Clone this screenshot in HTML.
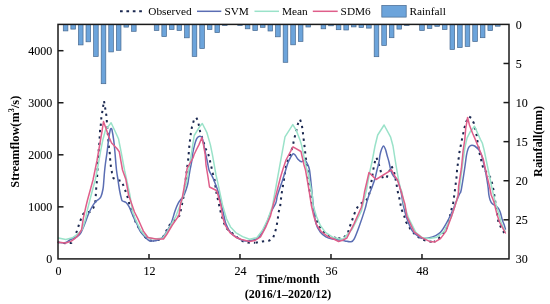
<!DOCTYPE html>
<html><head><meta charset="utf-8">
<style>
html,body{margin:0;padding:0;background:#fff;}
body{width:550px;height:304px;overflow:hidden;position:relative;}
svg{position:absolute;left:0;top:0;display:block;will-change:transform;}
text{font-family:"Liberation Serif",serif;fill:#000;}
</style></head>
<body>
<svg width="550" height="304" viewBox="0 0 550 304">
<rect x="0" y="0" width="550" height="304" fill="#fff"/>
<g><rect x="63.28" y="24.40" width="4.60" height="6.50" fill="#6ca4db" stroke="#46688f" stroke-width="0.7"/><rect x="70.87" y="24.40" width="4.60" height="4.70" fill="#6ca4db" stroke="#46688f" stroke-width="0.7"/><rect x="78.45" y="24.40" width="4.60" height="20.50" fill="#6ca4db" stroke="#46688f" stroke-width="0.7"/><rect x="86.03" y="24.40" width="4.60" height="17.40" fill="#6ca4db" stroke="#46688f" stroke-width="0.7"/><rect x="93.61" y="24.40" width="4.60" height="32.10" fill="#6ca4db" stroke="#46688f" stroke-width="0.7"/><rect x="101.20" y="24.40" width="4.60" height="59.30" fill="#6ca4db" stroke="#46688f" stroke-width="0.7"/><rect x="108.78" y="24.40" width="4.60" height="27.50" fill="#6ca4db" stroke="#46688f" stroke-width="0.7"/><rect x="116.36" y="24.40" width="4.60" height="25.90" fill="#6ca4db" stroke="#46688f" stroke-width="0.7"/><rect x="123.95" y="24.40" width="4.60" height="2.70" fill="#6ca4db" stroke="#46688f" stroke-width="0.7"/><rect x="131.53" y="24.40" width="4.60" height="6.90" fill="#6ca4db" stroke="#46688f" stroke-width="0.7"/><rect x="154.28" y="24.40" width="4.60" height="6.10" fill="#6ca4db" stroke="#46688f" stroke-width="0.7"/><rect x="161.86" y="24.40" width="4.60" height="12.20" fill="#6ca4db" stroke="#46688f" stroke-width="0.7"/><rect x="169.44" y="24.40" width="4.60" height="5.10" fill="#6ca4db" stroke="#46688f" stroke-width="0.7"/><rect x="177.03" y="24.40" width="4.60" height="6.10" fill="#6ca4db" stroke="#46688f" stroke-width="0.7"/><rect x="184.61" y="24.40" width="4.60" height="13.40" fill="#6ca4db" stroke="#46688f" stroke-width="0.7"/><rect x="192.19" y="24.40" width="4.60" height="32.00" fill="#6ca4db" stroke="#46688f" stroke-width="0.7"/><rect x="199.78" y="24.40" width="4.60" height="24.10" fill="#6ca4db" stroke="#46688f" stroke-width="0.7"/><rect x="207.36" y="24.40" width="4.60" height="5.10" fill="#6ca4db" stroke="#46688f" stroke-width="0.7"/><rect x="214.94" y="24.40" width="4.60" height="8.20" fill="#6ca4db" stroke="#46688f" stroke-width="0.7"/><rect x="222.53" y="24.40" width="4.60" height="1.10" fill="#6ca4db" stroke="#46688f" stroke-width="0.7"/><rect x="237.69" y="24.40" width="4.60" height="1.10" fill="#6ca4db" stroke="#46688f" stroke-width="0.7"/><rect x="245.28" y="24.40" width="4.60" height="4.40" fill="#6ca4db" stroke="#46688f" stroke-width="0.7"/><rect x="252.86" y="24.40" width="4.60" height="6.20" fill="#6ca4db" stroke="#46688f" stroke-width="0.7"/><rect x="260.44" y="24.40" width="4.60" height="2.90" fill="#6ca4db" stroke="#46688f" stroke-width="0.7"/><rect x="268.02" y="24.40" width="4.60" height="6.60" fill="#6ca4db" stroke="#46688f" stroke-width="0.7"/><rect x="275.61" y="24.40" width="4.60" height="12.40" fill="#6ca4db" stroke="#46688f" stroke-width="0.7"/><rect x="283.19" y="24.40" width="4.60" height="37.90" fill="#6ca4db" stroke="#46688f" stroke-width="0.7"/><rect x="290.77" y="24.40" width="4.60" height="20.40" fill="#6ca4db" stroke="#46688f" stroke-width="0.7"/><rect x="298.36" y="24.40" width="4.60" height="17.00" fill="#6ca4db" stroke="#46688f" stroke-width="0.7"/><rect x="305.94" y="24.40" width="4.60" height="2.60" fill="#6ca4db" stroke="#46688f" stroke-width="0.7"/><rect x="321.11" y="24.40" width="4.60" height="4.40" fill="#6ca4db" stroke="#46688f" stroke-width="0.7"/><rect x="328.69" y="24.40" width="4.60" height="1.40" fill="#6ca4db" stroke="#46688f" stroke-width="0.7"/><rect x="336.27" y="24.40" width="4.60" height="5.30" fill="#6ca4db" stroke="#46688f" stroke-width="0.7"/><rect x="343.85" y="24.40" width="4.60" height="5.60" fill="#6ca4db" stroke="#46688f" stroke-width="0.7"/><rect x="351.44" y="24.40" width="4.60" height="2.50" fill="#6ca4db" stroke="#46688f" stroke-width="0.7"/><rect x="359.02" y="24.40" width="4.60" height="3.00" fill="#6ca4db" stroke="#46688f" stroke-width="0.7"/><rect x="366.60" y="24.40" width="4.60" height="3.70" fill="#6ca4db" stroke="#46688f" stroke-width="0.7"/><rect x="374.19" y="24.40" width="4.60" height="32.30" fill="#6ca4db" stroke="#46688f" stroke-width="0.7"/><rect x="381.77" y="24.40" width="4.60" height="21.10" fill="#6ca4db" stroke="#46688f" stroke-width="0.7"/><rect x="389.35" y="24.40" width="4.60" height="13.30" fill="#6ca4db" stroke="#46688f" stroke-width="0.7"/><rect x="396.94" y="24.40" width="4.60" height="4.70" fill="#6ca4db" stroke="#46688f" stroke-width="0.7"/><rect x="404.52" y="24.40" width="4.60" height="1.10" fill="#6ca4db" stroke="#46688f" stroke-width="0.7"/><rect x="419.68" y="24.40" width="4.60" height="6.10" fill="#6ca4db" stroke="#46688f" stroke-width="0.7"/><rect x="427.27" y="24.40" width="4.60" height="4.10" fill="#6ca4db" stroke="#46688f" stroke-width="0.7"/><rect x="434.85" y="24.40" width="4.60" height="1.90" fill="#6ca4db" stroke="#46688f" stroke-width="0.7"/><rect x="442.43" y="24.40" width="4.60" height="5.10" fill="#6ca4db" stroke="#46688f" stroke-width="0.7"/><rect x="450.02" y="24.40" width="4.60" height="25.10" fill="#6ca4db" stroke="#46688f" stroke-width="0.7"/><rect x="457.60" y="24.40" width="4.60" height="23.20" fill="#6ca4db" stroke="#46688f" stroke-width="0.7"/><rect x="465.18" y="24.40" width="4.60" height="22.00" fill="#6ca4db" stroke="#46688f" stroke-width="0.7"/><rect x="472.76" y="24.40" width="4.60" height="17.10" fill="#6ca4db" stroke="#46688f" stroke-width="0.7"/><rect x="480.35" y="24.40" width="4.60" height="13.30" fill="#6ca4db" stroke="#46688f" stroke-width="0.7"/><rect x="487.93" y="24.40" width="4.60" height="6.20" fill="#6ca4db" stroke="#46688f" stroke-width="0.7"/><rect x="495.51" y="24.40" width="4.60" height="1.80" fill="#6ca4db" stroke="#46688f" stroke-width="0.7"/></g>
<g fill="none" stroke-linejoin="round" stroke-linecap="round">
<polyline points="58.0,242.3 65.6,243.2 71.3,243.0 74.5,237.5 76.9,231.0 78.9,224.9 81.0,219.0 83.4,213.6 86.0,212.5 89.9,211.8 93.5,207.7 95.3,202.0 95.8,195.0 96.2,188.5 96.8,182.0 97.3,174.0 98.0,158.0 99.3,144.0 100.0,131.0 100.8,124.8 101.3,118.3 104.0,100.8 106.4,115.7 106.9,121.9 107.3,127.7 108.9,146.8 109.8,153.6 110.2,159.8 110.9,166.6 112.0,172.7 113.4,178.2 116.5,180.0 121.5,181.0 124.0,187.0 126.2,193.0 128.2,199.0 129.5,205.0 132.0,211.5 134.0,217.5 136.0,223.0 140.0,230.0 145.0,237.0 149.0,240.5 153.0,241.0" stroke="#1b2850" stroke-width="2" stroke-dasharray="2.3 4.1" stroke-dashoffset="1.05" stroke-linecap="butt"/><polyline points="153.0,241.0 158.0,240.0 162.0,238.5 164.6,234.5 167.4,228.7 170.5,223.4 175.0,219.5 179.6,215.4 181.0,209.5 182.3,202.9 183.5,197.0 185.5,181.0 187.5,165.0 188.3,158.5 188.8,152.3 189.5,144.0 190.9,133.2 192.0,126.7 193.8,120.5 196.2,117.5 198.0,120.8 199.0,126.1 200.1,131.6 203.0,140.5 205.8,148.8 208.4,154.6 210.0,161.0 211.5,167.5 213.0,174.0 214.5,179.5 215.5,186.5 216.5,193.0 217.8,199.0 219.0,204.5 220.5,211.4 222.3,217.7 224.1,223.2 226.8,228.6 232.3,233.2 238.0,238.0 243.2,241.4 247.7,242.6 255.0,242.8" stroke="#1b2850" stroke-width="2" stroke-dasharray="2.3 4.1" stroke-dashoffset="1.77" stroke-linecap="butt"/><polyline points="255.0,242.8 262.3,241.4 269.5,240.5 273.2,237.7 275.0,232.3 276.5,226.8 277.7,219.5 278.6,212.3 280.1,206.8 281.5,194.5 282.5,188.5 283.5,182.5 285.5,169.5 286.5,163.5 289.0,158.0 291.0,152.0 293.0,145.1 294.1,139.1 295.8,133.1 297.1,126.6 299.0,120.6 300.0,119.5 301.7,123.9 302.6,130.4 303.4,136.9 304.1,142.9 305.0,150.0 305.5,156.0 306.5,162.0 307.7,168.0 308.6,182.7 309.5,190.0 311.4,200.0 312.3,205.0 315.0,215.5 318.2,224.6 321.7,229.7 325.7,234.3 331.0,237.0 337.7,238.4" stroke="#1b2850" stroke-width="2" stroke-dasharray="2.3 4.1" stroke-dashoffset="5.80" stroke-linecap="butt"/><polyline points="337.7,238.4 343.2,238.2 347.7,233.6 349.5,227.3 351.9,220.9 354.1,214.5 356.3,209.1 359.2,204.5 362.3,202.7 365.5,201.2 368.4,197.5 370.0,190.5 371.0,184.5 372.0,178.0 373.0,171.5 374.0,165.5 375.5,159.5 376.5,157.5 378.0,162.0 380.0,168.0 381.5,174.5 383.5,180.0" stroke="#1b2850" stroke-width="2" stroke-dasharray="2.3 4.1" stroke-dashoffset="6.05" stroke-linecap="butt"/><polyline points="383.5,180.0 386.5,178.0 389.0,172.0 391.5,166.0 394.0,171.5 396.5,184.0 397.5,190.5 399.5,199.0 401.4,209.1 404.1,215.5 405.9,221.8 410.5,229.1 415.9,235.5 422.3,239.5 428.6,241.4 434.1,241.9" stroke="#1b2850" stroke-width="2" stroke-dasharray="2.3 4.1" stroke-dashoffset="2.34" stroke-linecap="butt"/><polyline points="434.1,241.9 438.6,238.6 443.2,233.2 446.8,227.7 449.5,218.0 452.3,205.9 453.2,202.7 454.1,196.4 455.4,186.4 456.5,177.3 457.2,168.2 458.6,159.0 459.5,151.8 460.5,146.8 462.0,139.2 463.2,133.6 464.5,127.7 466.2,121.7 469.0,116.5 471.2,118.0 474.0,123.5 475.4,129.5 476.8,136.1 477.7,143.2 479.5,153.0 481.4,160.9 483.2,168.2 487.0,173.0 490.7,177.9 492.2,183.7 493.5,190.0 495.5,203.0 498.4,221.9 501.0,227.5 505.4,235.0" stroke="#1b2850" stroke-width="2" stroke-dasharray="2.3 4.1" stroke-dashoffset="1.03" stroke-linecap="butt"/>
<path d="M58.00,242.30C59.30,242.35 63.85,242.98 65.80,242.60C67.75,242.22 68.15,240.85 69.70,240.00C71.25,239.15 73.80,238.12 75.10,237.50C76.40,236.88 76.60,236.98 77.50,236.30C78.40,235.62 79.40,235.20 80.50,233.40C81.60,231.60 82.80,228.65 84.10,225.50C85.40,222.35 87.08,217.42 88.30,214.50C89.52,211.58 90.43,209.82 91.40,208.00C92.37,206.18 93.20,204.83 94.10,203.60C95.00,202.37 96.02,201.33 96.80,200.60C97.58,199.87 98.10,199.88 98.80,199.20C99.50,198.52 100.30,198.20 101.00,196.50C101.70,194.80 102.53,191.58 103.00,189.00C103.47,186.42 103.55,183.83 103.80,181.00C104.05,178.17 104.22,175.00 104.50,172.00C104.78,169.00 105.03,166.60 105.50,163.00C105.97,159.40 106.77,154.45 107.30,150.40C107.83,146.35 108.22,142.10 108.70,138.70C109.18,135.30 109.80,131.70 110.20,130.00C110.60,128.30 110.80,128.50 111.10,128.50C111.40,128.50 111.55,127.93 112.00,130.00C112.45,132.07 113.32,137.27 113.80,140.90C114.28,144.53 114.45,146.95 114.90,151.80C115.35,156.65 115.98,165.30 116.50,170.00C117.02,174.70 117.50,176.67 118.00,180.00C118.50,183.33 118.92,186.83 119.50,190.00C120.08,193.17 121.00,197.17 121.50,199.00C122.00,200.83 121.75,200.42 122.50,201.00C123.25,201.58 124.88,201.53 126.00,202.50C127.12,203.47 128.32,205.22 129.20,206.80C130.08,208.38 130.47,210.03 131.30,212.00C132.13,213.97 133.17,216.40 134.20,218.60C135.23,220.80 136.52,223.12 137.50,225.20C138.48,227.28 138.85,229.13 140.10,231.10C141.35,233.07 143.52,235.43 145.00,237.00C146.48,238.57 147.67,239.83 149.00,240.50C150.33,241.17 151.50,241.08 153.00,241.00C154.50,240.92 156.33,240.67 158.00,240.00C159.67,239.33 161.50,238.50 163.00,237.00C164.50,235.50 165.63,233.28 167.00,231.00C168.37,228.72 169.85,226.67 171.20,223.30C172.55,219.93 173.90,214.20 175.10,210.80C176.30,207.40 177.20,205.10 178.40,202.90C179.60,200.70 181.28,199.08 182.30,197.60C183.32,196.12 183.63,196.10 184.50,194.00C185.37,191.90 186.82,187.57 187.50,185.00C188.18,182.43 188.18,181.10 188.60,178.60C189.02,176.10 189.43,173.10 190.00,170.00C190.57,166.90 191.55,162.77 192.00,160.00C192.45,157.23 192.27,155.92 192.70,153.40C193.13,150.88 193.95,147.32 194.60,144.90C195.25,142.48 195.93,140.28 196.60,138.90C197.27,137.52 197.83,136.98 198.60,136.60C199.37,136.22 200.60,136.32 201.20,136.60C201.80,136.88 201.87,137.47 202.20,138.30C202.53,139.13 202.82,139.95 203.20,141.60C203.58,143.25 204.07,146.02 204.50,148.20C204.93,150.38 205.38,152.73 205.80,154.70C206.22,156.67 206.47,157.45 207.00,160.00C207.53,162.55 208.25,167.50 209.00,170.00C209.75,172.50 210.83,173.67 211.50,175.00C212.17,176.33 212.42,176.67 213.00,178.00C213.58,179.33 214.17,180.83 215.00,183.00C215.83,185.17 217.17,188.33 218.00,191.00C218.83,193.67 219.42,196.67 220.00,199.00C220.58,201.33 220.97,202.83 221.50,205.00C222.03,207.17 222.45,208.83 223.20,212.00C223.95,215.17 224.70,220.50 226.00,224.00C227.30,227.50 229.17,230.75 231.00,233.00C232.83,235.25 235.00,236.25 237.00,237.50C239.00,238.75 240.92,239.95 243.00,240.50C245.08,241.05 247.20,241.12 249.50,240.80C251.80,240.48 254.67,240.02 256.80,238.60C258.93,237.18 260.60,235.07 262.30,232.30C264.00,229.53 265.55,225.38 267.00,222.00C268.45,218.62 269.52,215.22 271.00,212.00C272.48,208.78 274.82,205.53 275.90,202.70C276.98,199.87 276.43,198.63 277.50,195.00C278.57,191.37 280.88,185.23 282.30,180.90C283.72,176.57 285.05,172.03 286.00,169.00C286.95,165.97 287.25,164.62 288.00,162.70C288.75,160.78 289.63,158.98 290.50,157.50C291.37,156.02 292.37,154.13 293.20,153.80C294.03,153.47 294.75,154.63 295.50,155.50C296.25,156.37 296.72,157.95 297.70,159.00C298.68,160.05 300.18,161.60 301.40,161.80C302.62,162.00 303.95,159.75 305.00,160.20C306.05,160.65 306.95,162.87 307.70,164.50C308.45,166.13 308.88,166.35 309.50,170.00C310.12,173.65 310.78,180.65 311.40,186.40C312.02,192.15 312.45,198.37 313.20,204.50C313.95,210.63 314.68,218.57 315.90,223.20C317.12,227.83 318.83,230.03 320.50,232.30C322.17,234.57 323.93,235.67 325.90,236.80C327.87,237.93 330.03,238.57 332.30,239.10C334.57,239.63 337.38,239.70 339.50,240.00C341.62,240.30 343.17,240.60 345.00,240.90C346.83,241.20 348.98,242.10 350.50,241.80C352.02,241.50 352.60,241.82 354.10,239.10C355.60,236.38 357.68,230.50 359.50,225.50C361.32,220.50 363.80,212.93 365.00,209.10C366.20,205.27 366.03,204.85 366.70,202.50C367.37,200.15 368.07,197.68 369.00,195.00C369.93,192.32 371.30,189.15 372.30,186.40C373.30,183.65 374.22,181.23 375.00,178.50C375.78,175.77 376.33,172.75 377.00,170.00C377.67,167.25 378.50,164.50 379.00,162.00C379.50,159.50 379.58,157.08 380.00,155.00C380.42,152.92 380.92,151.00 381.50,149.50C382.08,148.00 382.83,146.00 383.50,146.00C384.17,146.00 384.92,148.00 385.50,149.50C386.08,151.00 386.42,152.92 387.00,155.00C387.58,157.08 388.33,159.33 389.00,162.00C389.67,164.67 390.25,168.67 391.00,171.00C391.75,173.33 392.50,174.58 393.50,176.00C394.50,177.42 396.17,178.50 397.00,179.50C397.83,180.50 398.00,180.58 398.50,182.00C399.00,183.42 399.52,186.07 400.00,188.00C400.48,189.93 400.87,190.85 401.40,193.60C401.93,196.35 402.30,200.40 403.20,204.50C404.10,208.60 405.28,213.80 406.80,218.20C408.32,222.60 410.18,227.72 412.30,230.90C414.42,234.08 417.55,236.03 419.50,237.30C421.45,238.57 422.33,238.43 424.00,238.50C425.67,238.57 427.67,238.13 429.50,237.70C431.33,237.27 433.17,236.80 435.00,235.90C436.83,235.00 438.68,234.27 440.50,232.30C442.32,230.33 444.08,227.28 445.90,224.10C447.72,220.92 449.73,216.83 451.40,213.20C453.07,209.57 454.55,205.50 455.90,202.30C457.25,199.10 458.62,196.05 459.50,194.00C460.38,191.95 460.33,194.30 461.20,190.00C462.07,185.70 463.82,174.00 464.70,168.20C465.58,162.40 465.92,158.47 466.50,155.20C467.08,151.93 467.62,150.13 468.20,148.60C468.78,147.07 469.37,146.57 470.00,146.00C470.63,145.43 471.22,145.20 472.00,145.20C472.78,145.20 473.80,145.47 474.70,146.00C475.60,146.53 476.65,147.68 477.40,148.40C478.15,149.12 478.55,149.28 479.20,150.30C479.85,151.32 480.67,152.80 481.30,154.50C481.93,156.20 482.47,158.45 483.00,160.50C483.53,162.55 484.03,164.72 484.50,166.80C484.97,168.88 485.38,170.80 485.80,173.00C486.22,175.20 486.60,177.50 487.00,180.00C487.40,182.50 487.88,185.50 488.20,188.00C488.52,190.50 488.57,192.95 488.90,195.00C489.23,197.05 489.67,198.87 490.20,200.30C490.73,201.73 491.28,202.73 492.10,203.60C492.92,204.47 494.17,204.85 495.10,205.50C496.03,206.15 496.93,206.62 497.70,207.50C498.47,208.38 499.15,209.60 499.70,210.80C500.25,212.00 500.57,213.18 501.00,214.70C501.43,216.22 501.75,218.15 502.30,219.90C502.85,221.65 503.78,223.68 504.30,225.20C504.82,226.72 505.22,228.37 505.40,229.00" stroke="#5a6db3" stroke-width="1.5"/>
<polyline points="58.5,238.0 65.8,239.5 72.4,237.8 76.2,235.1 78.7,233.2 82.2,229.6 85.2,220.1 87.5,209.5 89.9,200.0 93.0,188.0 95.5,179.0 98.5,163.0 100.7,150.4 102.9,139.5 105.5,130.0 111.1,122.8 114.5,130.0 118.5,138.7 119.6,144.5 121.1,151.8 124.6,170.5 129.9,195.0 132.6,212.0 135.2,218.6 138.2,225.2 141.1,231.1 145.0,235.5 149.0,238.0 155.0,239.0 163.0,238.0 167.0,232.0 171.5,224.0 176.0,216.0 179.0,208.0 181.4,202.3 184.1,191.4 187.5,178.0 189.5,165.0 192.0,150.0 194.2,135.5 199.5,126.8 202.3,123.5 206.8,132.3 210.4,144.9 212.4,154.7 216.0,175.0 217.7,182.3 222.5,205.0 226.5,218.8 230.5,226.9 235.7,232.6 242.6,236.6 249.5,239.3 256.8,237.7 262.3,230.5 267.7,219.5 272.3,206.8 285.0,136.8 292.8,124.6 296.3,130.4 300.1,140.2 301.7,145.6 304.0,157.0 306.5,168.0 307.7,171.8 312.3,195.5 313.0,205.0 316.5,216.5 320.5,225.7 325.7,232.6 332.6,237.2 339.5,239.0 343.2,239.1 352.3,229.0 361.4,211.0 364.0,200.0 366.5,190.0 369.5,173.0 372.2,161.0 375.0,146.0 377.7,135.0 384.1,125.0 390.5,136.8 393.0,146.0 395.5,162.0 398.0,177.0 400.0,187.0 402.0,192.0 403.5,202.7 408.6,218.2 415.9,232.7 422.3,237.7 429.5,238.6 436.8,237.2 444.1,231.4 451.4,216.8 456.8,200.5 459.5,188.0 462.5,165.0 465.0,147.0 467.1,137.8 469.9,132.3 474.5,126.3 477.2,132.3 480.5,139.6 482.3,143.0 484.1,150.0 489.3,175.0 491.5,186.0 493.5,195.0 495.1,201.6 497.1,208.2 499.1,214.7 501.0,222.0 503.0,227.0 505.4,232.0" stroke="#9ae2c9" stroke-width="1.5"/>
<polyline points="58.0,242.2 65.8,243.0 71.3,241.1 75.1,238.4 77.0,236.5 79.3,233.5 81.6,229.6 83.4,217.8 85.8,207.0 87.5,200.0 93.0,180.0 97.0,160.5 100.0,143.0 102.2,130.0 103.5,121.5 106.5,130.0 108.7,136.5 111.6,143.0 116.7,148.2 119.3,151.8 122.5,170.0 125.9,179.6 128.6,195.0 134.5,212.0 137.8,218.6 140.8,225.2 143.4,231.1 148.0,237.5 156.0,239.0 163.5,239.0 167.0,234.0 172.3,225.0 179.0,215.4 180.5,204.0 182.3,197.7 184.1,187.7 187.2,168.1 193.0,158.0 194.0,154.7 196.5,149.5 199.0,144.6 201.9,137.6 203.5,144.9 205.2,154.7 206.0,165.0 208.0,177.0 209.5,187.0 216.5,190.5 218.0,195.0 220.8,205.0 222.5,216.5 225.4,225.7 230.0,232.6 235.7,237.2 241.5,239.5 249.5,241.4 255.0,240.5 260.5,236.8 265.9,226.8 270.5,215.9 273.2,205.0 276.0,195.0 280.5,177.3 283.0,169.0 286.0,160.0 293.0,146.8 301.0,151.5 304.0,165.0 305.5,170.0 306.8,177.3 309.0,190.0 311.3,205.0 313.6,215.4 316.5,224.6 321.1,231.5 328.0,236.6 333.8,239.0 338.6,241.5 343.2,240.0 346.8,238.2 354.1,223.6 361.4,207.3 363.2,200.0 364.5,192.0 369.0,172.5 376.0,179.5 391.5,169.8 394.0,175.0 397.5,180.0 401.0,191.0 405.0,204.5 406.8,216.4 414.1,231.8 421.4,237.3 429.5,241.4 435.0,241.9 440.5,238.6 445.9,231.4 451.4,216.8 455.0,205.9 458.3,195.0 458.6,186.4 461.4,168.2 463.2,150.0 464.8,139.6 465.7,128.6 467.6,117.5 469.4,124.9 472.6,133.2 475.4,139.6 478.6,147.5 483.2,159.0 486.7,175.0 489.5,186.4 491.2,195.0 493.8,201.6 497.1,214.7 499.7,222.5 505.4,233.0" stroke="#df5e8a" stroke-width="1.5"/>
</g>
<g stroke="#1a1a1a" stroke-width="1.5" fill="none">
<rect x="58.00" y="24.40" width="451.00" height="234.50"/>
<line x1="149.00" y1="258.90" x2="149.00" y2="253.90"/><line x1="239.99" y1="258.90" x2="239.99" y2="253.90"/><line x1="330.99" y1="258.90" x2="330.99" y2="253.90"/><line x1="421.98" y1="258.90" x2="421.98" y2="253.90"/><line x1="58.00" y1="206.85" x2="63.50" y2="206.85"/><line x1="58.00" y1="154.80" x2="63.50" y2="154.80"/><line x1="58.00" y1="102.75" x2="63.50" y2="102.75"/><line x1="58.00" y1="50.70" x2="63.50" y2="50.70"/><line x1="509.00" y1="63.48" x2="503.50" y2="63.48"/><line x1="509.00" y1="102.57" x2="503.50" y2="102.57"/><line x1="509.00" y1="141.65" x2="503.50" y2="141.65"/><line x1="509.00" y1="180.73" x2="503.50" y2="180.73"/><line x1="509.00" y1="219.82" x2="503.50" y2="219.82"/>
</g>
<g font-size="12" stroke="#000" stroke-width="0.08"><text x="52.2" y="263.10" text-anchor="end">0</text><text x="52.2" y="211.05" text-anchor="end">1000</text><text x="52.2" y="159.00" text-anchor="end">2000</text><text x="52.2" y="106.95" text-anchor="end">3000</text><text x="52.2" y="54.90" text-anchor="end">4000</text><text x="515.8" y="28.60" text-anchor="start">0</text><text x="515.8" y="67.68" text-anchor="start">5</text><text x="515.8" y="106.77" text-anchor="start">10</text><text x="515.8" y="145.85" text-anchor="start">15</text><text x="515.8" y="184.93" text-anchor="start">20</text><text x="515.8" y="224.02" text-anchor="start">25</text><text x="515.8" y="263.10" text-anchor="start">30</text><text x="58.40" y="274.8" text-anchor="middle">0</text><text x="149.40" y="274.8" text-anchor="middle">12</text><text x="240.39" y="274.8" text-anchor="middle">24</text><text x="331.39" y="274.8" text-anchor="middle">36</text><text x="422.38" y="274.8" text-anchor="middle">48</text></g>
<!-- legend -->
<g>
<line x1="120" y1="11.2" x2="143" y2="11.2" stroke="#1b2850" stroke-width="2.1" stroke-dasharray="2.7 3.7"/>
<text x="148.3" y="15.0" font-size="11.3">Observed</text>
<line x1="197" y1="11.3" x2="221.3" y2="11.3" stroke="#5a6db3" stroke-width="1.5"/>
<text x="224.4" y="15.0" font-size="11.3">SVM</text>
<line x1="254.5" y1="11.3" x2="279" y2="11.3" stroke="#9ae2c9" stroke-width="1.5"/>
<text x="282" y="15.0" font-size="11.3">Mean</text>
<line x1="312.8" y1="11.3" x2="337.7" y2="11.3" stroke="#df5e8a" stroke-width="1.5"/>
<text x="340.6" y="15.0" font-size="11.3">SDM6</text>
<rect x="381.8" y="5.4" width="24.4" height="11.7" fill="#6ca4db" stroke="#46688f" stroke-width="0.7"/>
<text x="409.4" y="15.0" font-size="11.3">Rainfall</text>
</g>
<!-- axis titles -->
<text x="288" y="283.4" font-size="12" font-weight="bold" text-anchor="middle">Time/month</text>
<text x="288" y="297.6" font-size="12" font-weight="bold" text-anchor="middle">(2016/1&#8211;2020/12)</text>
<text transform="translate(19.3,141.7) rotate(-90)" font-size="12.4" font-weight="bold" text-anchor="middle">Streamflow(m<tspan font-size="8.2" dy="-5.6">3</tspan><tspan dy="5.6">/s)</tspan></text>
<text transform="translate(541.7,141.4) rotate(-90)" font-size="12.3" font-weight="bold" text-anchor="middle">Rainfall(mm)</text>
</svg>
</body></html>
